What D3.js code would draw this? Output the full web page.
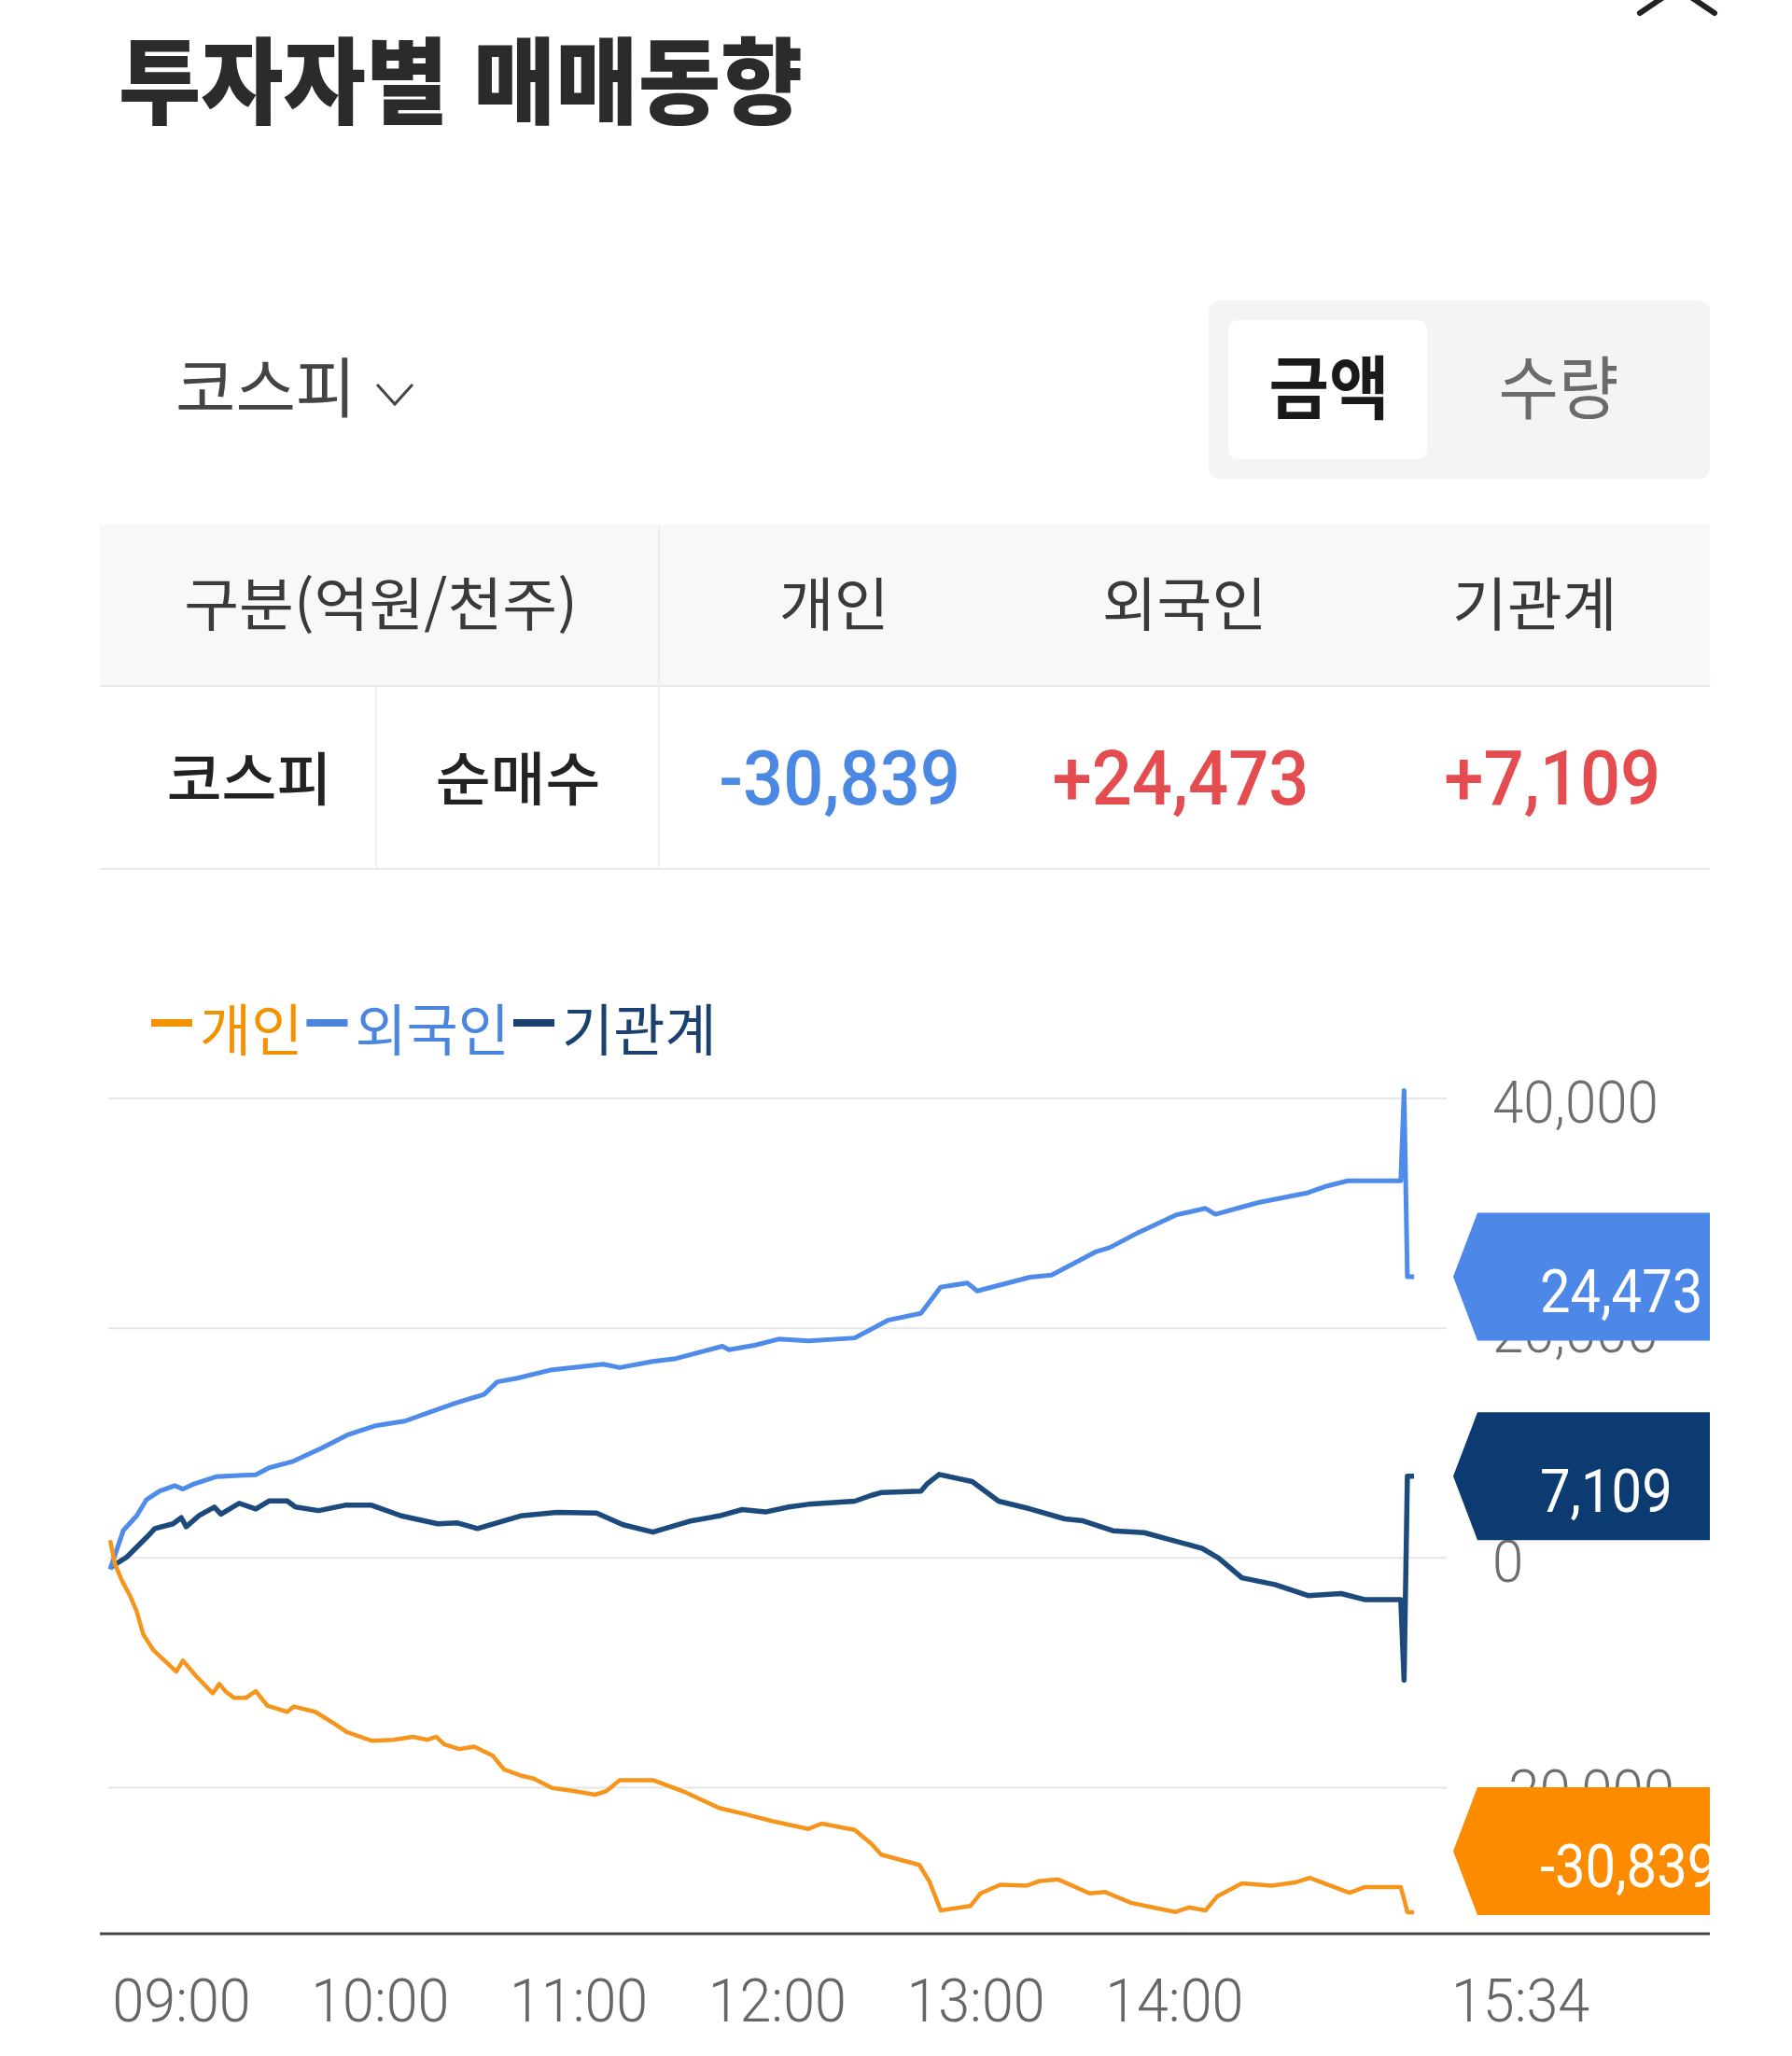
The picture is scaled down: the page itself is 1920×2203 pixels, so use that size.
<!DOCTYPE html>
<html lang="ko">
<head>
<meta charset="UTF-8">
<title>투자자별 매매동향</title>
<script src="https://d3js.org/d3.v7.min.js"></script>
<style>
  body { margin: 0; background: #fff; }
  svg { display: block; }
</style>
</head>
<body>
<div id="container"></div>
<script>
// ---- data (minutes after 09:00, 억원) ----
var indivMin = [0, 1.5, 3.5, 6, 8, 10, 13, 16, 20, 22, 26, 31, 33, 35, 37.5, 41, 44, 47.5, 53.5, 55.5,
  62, 67, 71.5, 79, 85.5, 91.5, 96, 98.5, 101, 105.5, 110, 115.5, 119, 124, 128, 133.5, 140, 146.5, 150, 154,
  164, 166.5, 174, 184, 193, 200, 211, 215, 225, 230, 233, 244.5, 247.5, 251, 260, 263, 269, 277, 281, 286.5,
  296, 300.5, 308.5, 315, 322, 326, 331, 334.5, 342, 351, 358, 362.5, 374.5, 379, 390, 391, 392, 394];
var indivVal = [1540, -570, -1930, -3280, -4630, -6650, -8000, -8810, -9890, -8940, -10290, -11780, -10970, -11650, -12190, -12190, -11590, -12860, -13400, -12940,
  -13400, -14290, -15160, -15910, -15830, -15570, -15830, -15570, -16240, -16640, -16430, -17190, -18400, -18940, -19210, -20020, -20290, -20610, -20290, -19340,
  -19340, -19610, -20420, -21770, -22390, -22900, -23590, -23130, -23670, -24880, -25830, -26720, -28120, -30690, -30290, -29200, -28450, -28530, -28120, -27990,
  -29200, -29070, -30020, -30420, -30820, -30420, -30690, -29470, -28330, -28530, -28250, -27850, -29150, -28660, -28660, -29700, -30839, -30839];

var foreignMin = [0, 4, 8, 11, 15, 19.5, 22, 25.5, 32, 36, 44, 48, 55, 64, 72, 80, 89, 97, 104, 113,
  117, 123, 133, 149, 154, 164, 171, 185, 187, 195, 202, 211, 225, 235, 245, 251, 259, 262, 278, 284.5,
  298, 302, 311, 322, 331, 334, 347, 362, 367, 374, 390, 391, 392, 394];
var foreignVal = [-1000, 2400, 3660, 5080, 5830, 6300, 5990, 6460, 7070, 7140, 7240, 7850, 8380, 9570, 10750, 11500, 11910, 12740, 13450, 14240,
  15330, 15650, 16350, 16870, 16570, 17110, 17360, 18430, 18120, 18530, 19050, 18900, 19150, 20690, 21290, 23580, 23940, 23240, 24440, 24620,
  26670, 27010, 28370, 29850, 30430, 29920, 30940, 31800, 32320, 32830, 32830, 40690, 24473, 24473];

var instMin = [0, 5, 11, 13.5, 19, 21.5, 23, 27, 31.5, 33.5, 39, 44, 48, 53.5, 56, 63, 71, 79, 88, 99,
  105, 111, 124, 135, 147, 155, 164, 175, 184, 191, 198, 205, 211, 225, 230, 233, 245, 247, 250.5, 260.5,
  268.5, 278, 288.5, 294, 303, 312.5, 330, 335, 342, 352, 362, 372, 379, 390, 391, 392, 394];
var instVal = [-850, 70, 1790, 2560, 2970, 3500, 2720, 3720, 4430, 3810, 4760, 4270, 4960, 4960, 4430, 4120, 4590, 4590, 3660, 2970,
  3050, 2560, 3660, 3970, 3900, 2890, 2250, 3190, 3660, 4210, 4000, 4430, 4670, 4940, 5450, 5690, 5810, 6480, 7270, 6650,
  4940, 4270, 3400, 3230, 2370, 2200, 830, -20, -1730, -2320, -3280, -3100, -3620, -3620, -10630, 7109, 7109];

var seriesNames = ["개인", "외국인", "기관계"];
var seriesColors = ["#f5951c", "#4f8be8", "#1d4a7d"];
var seriesWidths = [4.5, 5, 5.5];
var legendColors = ["#f39200", "#4a86e0", "#1b4170"];
var tagColors = ["#fd8b00", "#4d87e8", "#0b3b70"];
var netBuy = [-30839, 24473, 7109];

var headerLabels = ["구분(억원/천주)", "개인", "외국인", "기관계"];
var rowLabels = ["코스피", "순매수"];

var xTickMin = [0, 60, 120, 180, 240, 300];
var xTickLabels = ["09:00", "10:00", "11:00", "12:00", "13:00", "14:00"];
var lastTimeLabel = "15:34";
var yTicks = [40000, 20000, 0, -20000];

// ---- helpers ----
var KR = "'Noto Sans CJK KR', 'Noto Sans', sans-serif";
var NUM = "Roboto, 'Noto Sans', sans-serif";
var comma = d3.format(",");
function signed(v) { return (v > 0 ? "+" : "-") + comma(Math.abs(v)); }
function plain(v) { return (v < 0 ? "-" : "") + comma(Math.abs(v)); }

// text placed by its vertical centre; sy stretches the glyphs a little like the phone font
function addText(parent, s, x, cy, o) {
    var sy = o.sy || 1;
    var c = o.c == null ? 0.37 : o.c;
    return parent.append("text")
        .attr("transform", "translate(" + x + "," + (cy + c * o.size * sy) + ") scale(1," + sy + ")")
        .attr("font-family", o.font || KR)
        .attr("font-size", o.size)
        .attr("font-weight", o.weight || 400)
        .attr("fill", o.fill || "#333")
        .attr("text-anchor", o.anchor || "start")
        .text(s);
}

var width = 1920, height = 2203;
var right = 1832;
var svg = d3.select("#container").append("svg").attr("width", width).attr("height", height);

// ---- header ----
addText(svg, "투자자별 매매동향", 127, 88, {size: 96, weight: 900, fill: "#2b2b2b", sy: 1.05});

// close icon (cut by top edge)
svg.append("path")
    .attr("d", "M1757,14 L1797,-13 L1837,14 M1757,-40 L1837,14 M1837,-40 L1757,14")
    .attr("fill", "none").attr("stroke", "#222").attr("stroke-width", 6).attr("stroke-linecap", "round");

// market dropdown
addText(svg, "코스피", 188, 416, {size: 70, fill: "#444", sy: 1.0});
svg.append("polyline").attr("points", "404,412 423,433 442,412")
    .attr("fill", "none").attr("stroke", "#444").attr("stroke-width", 3);

// amount / volume toggle
svg.append("rect").attr("x", 1295).attr("y", 322).attr("width", right - 1295).attr("height", 191).attr("rx", 12).attr("fill", "#f3f4f6");
svg.append("rect").attr("x", 1316).attr("y", 343).attr("width", 213).attr("height", 149).attr("rx", 10).attr("fill", "#fff");
addText(svg, "금액", 1424, 416, {size: 70, weight: 700, fill: "#1a1a1a", anchor: "middle", sy: 1.05});
addText(svg, "수량", 1670, 416, {size: 70, weight: 400, fill: "#6b6b6b", anchor: "middle", sy: 1.05});

// ---- summary table ----
var table = svg.append("g");
var hTop = 562, hBot = 735, rBot = 931, split1 = 403, split2 = 706;
table.append("rect").attr("x", 107).attr("y", hTop).attr("width", right - 107).attr("height", hBot - hTop).attr("fill", "#f7f8fa");
table.append("line").attr("x1", 107).attr("x2", right).attr("y1", hBot).attr("y2", hBot).attr("stroke", "#e6e8eb").attr("stroke-width", 2);
table.append("line").attr("x1", 107).attr("x2", right).attr("y1", rBot).attr("y2", rBot).attr("stroke", "#e6e8eb").attr("stroke-width", 2);
table.append("line").attr("x1", split2).attr("x2", split2).attr("y1", hTop).attr("y2", rBot).attr("stroke", "#eceef0").attr("stroke-width", 2);
table.append("line").attr("x1", split1).attr("x2", split1).attr("y1", hBot).attr("y2", rBot).attr("stroke", "#eceef0").attr("stroke-width", 2);

var colX = d3.scaleBand().domain(seriesNames).range([split2, right]);
var valueShift = [6, -4, 19];
var hMid = (hTop + hBot) / 2, rMid = (hBot + rBot) / 2;
addText(table, headerLabels[0], 408, hMid, {size: 64, fill: "#3a3a3a", anchor: "middle", sy: 0.97});
seriesNames.forEach(function (n) {
    addText(table, n, colX(n) + colX.bandwidth() / 2, hMid, {size: 64, fill: "#3a3a3a", anchor: "middle", sy: 0.97});
});
addText(table, rowLabels[0], 267, rMid + 2, {size: 64, weight: 500, fill: "#222", anchor: "middle", sy: 0.97});
addText(table, rowLabels[1], 555, rMid + 2, {size: 64, weight: 500, fill: "#222", anchor: "middle", sy: 0.97});
netBuy.forEach(function (v, i) {
    addText(table, signed(v), colX(seriesNames[i]) + colX.bandwidth() / 2 + valueShift[i], rMid,
        {font: NUM, size: 76, weight: 500, fill: v < 0 ? "#4a88e4" : "#e44c4f", anchor: "middle", sy: 1.07, c: 0.355});
});

// ---- chart ----
var x = d3.scaleLinear().domain([0, 394]).range([118, 1515]);
var y = d3.scaleLinear().domain([-20000, 40000]).range([1915.5, 1177]);

// legend
var lx = 162;
seriesNames.forEach(function (n, i) {
    svg.append("rect").attr("x", lx).attr("y", 1092).attr("width", 44).attr("height", 8).attr("fill", legendColors[i]);
    lx += 44 + 8;
    var t = addText(svg, n, lx, 1104, {size: 60, fill: legendColors[i], sy: 1.0});
    lx += t.node().getComputedTextLength() + 4;
});

// grid lines
svg.append("g").selectAll("line").data(yTicks).join("line")
    .attr("x1", 116).attr("x2", 1550)
    .attr("y1", function (d) { return y(d); }).attr("y2", function (d) { return y(d); })
    .attr("stroke", "#e6e6e6").attr("stroke-width", 2);

// y labels
svg.append("g").selectAll("g").data(yTicks).join("g").each(function (d) {
    addText(d3.select(this), plain(d), 1599, y(d) + 3, {font: NUM, size: 60, weight: 300, fill: "#6e6e6e", sy: 1.06, c: 0.355});
});

// baseline of the plot
svg.append("line").attr("x1", 107).attr("x2", right).attr("y1", 2072).attr("y2", 2072)
    .attr("stroke", "#444").attr("stroke-width", 3);

// x labels through a bottom axis
var xFont = 61, xMid = 71;
var xAxis = d3.axisBottom(x).tickValues(xTickMin).tickSize(0)
    .tickFormat(function (d, i) { return xTickLabels[i]; });
var xg = svg.append("g").attr("transform", "translate(0,2072)").call(xAxis);
xg.select(".domain").remove();
xg.selectAll("text")
    .attr("text-anchor", "start").attr("x", 2).attr("y", 0).attr("dy", 0)
    .attr("transform", "translate(0," + (xMid + 0.355 * xFont * 1.06) + ") scale(1,1.06)")
    .attr("font-family", NUM).attr("font-size", xFont).attr("font-weight", 300).attr("fill", "#666");
addText(svg, lastTimeLabel, 1555, 2072 + xMid, {font: NUM, size: xFont, weight: 300, fill: "#666", sy: 1.06, c: 0.355});

// series lines
var seriesData = [
    d3.zip(indivMin, indivVal),
    d3.zip(foreignMin, foreignVal),
    d3.zip(instMin, instVal)
];
var line = d3.line()
    .x(function (d) { return x(d[0]); })
    .y(function (d) { return y(d[1]); });

[2, 1, 0].forEach(function (i) {
    svg.append("path")
        .datum(seriesData[i])
        .attr("fill", "none")
        .attr("stroke", seriesColors[i])
        .attr("stroke-width", seriesWidths[i])
        .attr("stroke-linejoin", "round")
        .attr("d", line);
});

// last value tags on the right
svg.append("clipPath").attr("id", "tagclip").append("rect").attr("x", 0).attr("y", 0).attr("width", right).attr("height", height);
var tags = svg.append("g").attr("clip-path", "url(#tagclip)");
var tagH = 137, tagLeft = 1557, tagCorner = 1583, tagMaxBottom = 2052;
netBuy.forEach(function (v, i) {
    var cy = Math.min(y(v), tagMaxBottom - tagH / 2);
    var top = cy - tagH / 2, bot = cy + tagH / 2;
    tags.append("path")
        .attr("d", "M" + tagLeft + "," + cy + " L" + tagCorner + "," + top + " L1900," + top +
            " L1900," + bot + " L" + tagCorner + "," + bot + " Z")
        .attr("fill", tagColors[i]);
    addText(tags, plain(v), 1650, cy + 15, {font: NUM, size: 58, weight: 400, fill: "#fff", sy: 1.12, c: 0.355});
});
</script>
</body>
</html>
